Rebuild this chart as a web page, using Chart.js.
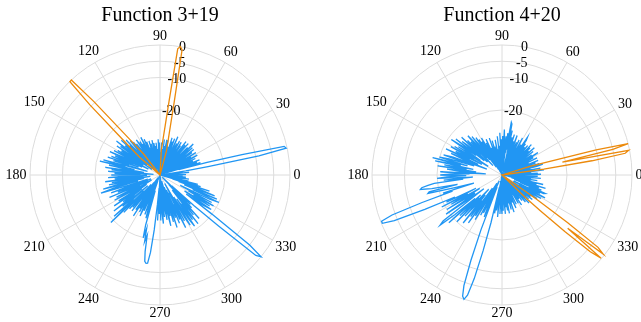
<!DOCTYPE html>
<html>
<head>
<meta charset="utf-8">
<script src="https://cdn.jsdelivr.net/npm/chart.js@4.4.1/dist/chart.umd.min.js"></script>
<style>
  html, body { margin: 0; padding: 0; background: #fff; overflow: hidden; }
  body { width: 641px; height: 322px; position: relative; }
  .painel { position: absolute; top: 0; width: 320px; height: 322px; }
</style>
</head>
<body>
<div class="painel" style="left:0"><canvas id="polar-esq" width="320" height="322"></canvas></div>
<div class="painel" style="left:342px"><canvas id="polar-dir" width="320" height="322"></canvas></div>
<script>
// angulos em graus (0..359), sentido anti-horario a partir do 0 na direita
const angulos = Array.from({ length: 360 }, (_, i) => i)
const angulosTick = [0, 30, 60, 90, 120, 150, 180, 210, 240, 270, 300, 330]
const gradeDb = [-20, -10, -5, 0]
const PISO = -40

const titulos = ['Function 3+19', 'Function 4+20']

// Function 3+19 - azul, dB por grau
const azulEsq = [
  -38, -32, -40, -34, -39, -31, -37, -33, -39, -32,
  -25, -9, -0.3, -0.8, -14, -25, -34, -27, -38, -28,
  -37, -27, -40, -29, -36, -28, -39, -30, -27, -38,
  -29, -37, -27, -34, -40, -28, -35, -27, -39, -31,
  -27, -37, -29, -26, -39, -28, -34, -40, -27, -36,
  -28, -38, -27, -33, -40, -29, -35, -28, -39, -32,
  -28, -37, -29, -39, -31, -27, -38, -33, -28, -40,
  -29, -35, -28, -38, -31, -40, -33, -29, -39, -29,
  -35, -31, -40, -29, -37, -32, -40, -30, -38, -33,
  -39, -30, -36, -29, -40, -32, -38, -30, -40, -31,
  -37, -30, -39, -29, -35, -40, -30, -38, -29, -36,
  -31, -39, -29, -35, -28, -38, -31, -27, -37, -29,
  -34, -28, -38, -29, -27, -37, -31, -28, -39, -27,
  -35, -26, -31, -38, -25, -33, -27, -37, -24, -32,
  -26, -35, -23, -31, -25, -37, -24, -33, -26, -34,
  -25, -33, -24, -36, -27, -23, -34, -25, -31, -24,
  -33, -23, -30, -25, -36, -22, -29, -21, -32, -24,
  -29, -35, -23, -31, -25, -38, -24, -32, -26, -34,
  -25, -36, -29, -24, -35, -26, -31, -23, -37, -25,
  -31, -24, -35, -26, -22, -33, -25, -21, -30, -36,
  -24, -32, -26, -37, -23, -30, -36, -25, -33, -24,
  -30, -37, -25, -32, -23, -35, -26, -33, -22, -30,
  -25, -35, -21, -29, -19, -33, -24, -36, -26, -33,
  -27, -37, -26, -33, -39, -27, -35, -25, -38, -28,
  -36, -27, -39, -29, -26, -37, -28, -40, -33, -27,
  -38, -29, -26, -35, -24, -20, -23, -19, -21, -16,
  -13, -12.5, -12.6, -16, -23, -31, -36, -26, -39, -28,
  -35, -26, -39, -28, -25, -36, -27, -40, -29, -26,
  -37, -28, -24, -34, -27, -38, -25, -33, -23, -36,
  -26, -32, -24, -35, -25, -30, -22, -34, -24, -37,
  -25, -22, -32, -24, -21, -31, -23, -29, -21, -34,
  -24, -32, -22, -36, -26, -39, -27, -35, -26, -16,
  -1.5, 0, -5, -20, -30, -24, -21, -31, -22, -28,
  -21, -30, -22, -33, -23, -20, -29, -21, -32, -22,
  -26, -34, -24, -36, -27, -39, -28, -35, -31, -40,
  -33, -38, -31, -40, -34, -32, -39, -33, -40, -36
]

// Function 3+19 - laranja, so os lobulos (o resto fica no piso)
const laranjaEsqAngulos = [
  75, 76, 77, 78, 79, 80, 81, 82, 83, 84, 85, 86, 87,
  128, 129, 130, 131, 132, 133, 134, 135, 136, 137, 138, 139
]
const laranjaEsqDb = [
  -32.3, -30.8, -28.5, -24.7, -17, -0.9, 0, -0.8, -17, -24.7, -28.5, -30.8, -32.3,
  -31.7, -29.8, -26.9, -21.7, -9.5, 0, -0.1, -9.5, -21.7, -26.9, -29.8, -31.7
]

// Function 4+20 - azul
const azulDir = [
  -36, -28, -39, -29, -40, -31, -37, -27, -40, -32,
  -28, -37, -31, -40, -29, -27, -38, -28, -34, -39,
  -29, -35, -28, -39, -31, -37, -28, -40, -33, -29,
  -38, -30, -27, -37, -29, -40, -33, -28, -38, -31,
  -27, -37, -29, -39, -28, -34, -27, -38, -31, -28,
  -36, -29, -39, -28, -34, -27, -26, -37, -29, -38,
  -31, -27, -39, -33, -28, -37, -29, -40, -31, -27,
  -37, -29, -39, -27, -34, -28, -38, -26, -32, -24,
  -23.5, -33, -27, -37, -28, -39, -29, -26, -36, -28,
  -38, -29, -34, -27, -39, -31, -37, -28, -40, -32,
  -38, -29, -35, -40, -31, -37, -29, -39, -33, -28,
  -38, -31, -40, -33, -28, -37, -29, -39, -31, -27,
  -36, -28, -38, -27, -32, -26, -37, -28, -25, -34,
  -27, -24, -33, -26, -36, -25, -31, -23, -34, -26,
  -24, -33, -22, -30, -25, -21, -32, -24, -35, -23,
  -30, -22, -33, -24, -29, -21, -32, -23, -27, -35,
  -24, -21, -31, -23, -20, -29, -18, -27, -19, -31,
  -22, -29, -20, -32, -23, -27, -35, -21, -30, -24,
  -21, -29, -23, -20, -31, -22, -28, -19, -17, -15,
  -14.5, -18, -26, -17, -16.5, -25, -31, -21, -24, -14,
  -4, -0.3, -0.3, -4, -14, -24, -21, -31, -19, -28,
  -22, -32, -20, -27, -30, -19, -26, -33, -17, -15.5,
  -21, -29, -18, -31, -22, -30, -20, -34, -23, -28,
  -32, -21, -30, -24, -35, -22, -31, -25, -37, -24,
  -32, -37, -26, -34, -27, -38, -29, -26, -36, -22,
  -12, -4, -0.8, 0, -1.5, -7, -16, -25, -36, -28,
  -38, -29, -40, -31, -27, -39, -33, -28, -40, -30,
  -28, -38, -29, -40, -33, -28, -39, -30, -40, -29,
  -36, -28, -40, -31, -37, -29, -40, -33, -28, -38,
  -31, -39, -32, -29, -40, -35, -30, -40, -33, -37,
  -30, -39, -35, -29, -40, -31, -33, -38, -30, -40,
  -35, -29, -39, -32, -28, -38, -30, -36, -29, -39,
  -31, -28, -37, -29, -39, -30, -27, -36, -29, -26,
  -34, -28, -25, -36, -27, -31, -26, -25.5, -34, -27,
  -36, -28, -33, -26, -37, -29, -35, -27, -38, -31,
  -37, -29, -40, -31, -36, -28, -40, -33, -29, -38
]

// Function 4+20 - laranja, lobulos duplos
const laranjaDirAngulos = [8, 9, 10, 11, 12, 13, 14, 15, 16, 17, 316, 317, 318, 319, 320, 321, 322, 323, 324, 325]
const laranjaDirDb = [-27, -12, -1.5, -0.3, -21, -5, 0, -10, -25, -31, -30, -24, -14, -4, -0.2, -14, -0.5, -3, -15, -27]

const AZUL = '#2196f3'
const LARANJA = '#ec8a0c'
const CINZA = '#dcdcdc'
const FONTE = '"Liberation Serif", "DejaVu Serif", serif'

// radar vai no sentido horario: indice i -> angulo (360 - i)
const ordem = angulos.map(a => (360 - a) % 360)

function montarLobulos(angs, dbs) {
  const porAngulo = {}
  angs.forEach((a, i) => { porAngulo[a] = dbs[i] })
  return angulos.map(a => (a in porAngulo ? porAngulo[a] : PISO))
}

const rotulosPolares = {
  id: 'rotulosPolares',
  beforeDatasetsDraw(chart) {
    const r = chart.scales.r
    const ctx = chart.ctx
    ctx.save()
    ctx.fillStyle = '#000'
    ctx.font = `14px ${FONTE}`
    ctx.textAlign = 'center'
    ctx.textBaseline = 'middle'

    angulosTick.forEach(a => {
      const txt = String(a)
      const w = ctx.measureText(txt).width
      const rad = a * Math.PI / 180
      const dist = r.drawingArea + 3.5 + Math.abs(Math.cos(rad)) * w / 2 + Math.abs(Math.sin(rad)) * 5
      const p = r.getPointPosition(ordem.indexOf(a), dist)
      ctx.fillText(txt, p.x, p.y)
    })

    // rotulos de dB ao longo do raio de 80 graus
    const iRaio = ordem.indexOf(80)
    gradeDb.forEach(v => {
      const p = r.getPointPosition(iRaio, r.getDistanceFromCenterForValue(v))
      ctx.fillText(String(v), p.x, p.y)
    })
    ctx.restore()
  }
}

function criarPolar(id, titulo, serieAzul, serieLaranja) {
  const ctx = document.getElementById(id)?.getContext('2d')
  if (!ctx) return null

  return new Chart(ctx, {
    type: 'radar',
    data: {
      labels: ordem,
      datasets: [
        {
          data: ordem.map(a => serieLaranja[a]),
          borderColor: LARANJA,
          borderWidth: 1.3,
          fill: false
        },
        {
          data: ordem.map(a => serieAzul[a]),
          borderColor: AZUL,
          borderWidth: 1.3,
          fill: false
        }
      ]
    },
    options: {
      responsive: false,
      animation: false,
      devicePixelRatio: 1,
      layout: { padding: { left: 30, right: 30, top: 0, bottom: 17 } },
      elements: {
        point: { radius: 0, hitRadius: 0, hoverRadius: 0 },
        line: { tension: 0 }
      },
      plugins: {
        legend: { display: false },
        tooltip: { enabled: false },
        title: {
          display: true,
          text: titulo,
          color: '#000',
          font: { family: FONTE, size: 20, weight: 'normal', lineHeight: 1.2 },
          padding: { top: 3.6, bottom: 17.4 }
        }
      },
      scales: {
        r: {
          min: PISO,
          max: 0,
          startAngle: 90,
          afterBuildTicks: s => { s.ticks = [PISO, ...gradeDb].map(v => ({ value: v })) },
          ticks: { display: false },
          pointLabels: { display: false },
          grid: { circular: true, color: CINZA, lineWidth: 1 },
          angleLines: { color: CINZA, lineWidth: c => (c.index % 30 === 0 ? 1 : 0) }
        }
      }
    },
    plugins: [rotulosPolares]
  })
}

criarPolar('polar-esq', titulos[0], azulEsq, montarLobulos(laranjaEsqAngulos, laranjaEsqDb))
criarPolar('polar-dir', titulos[1], azulDir, montarLobulos(laranjaDirAngulos, laranjaDirDb))
</script>
</body>
</html>
